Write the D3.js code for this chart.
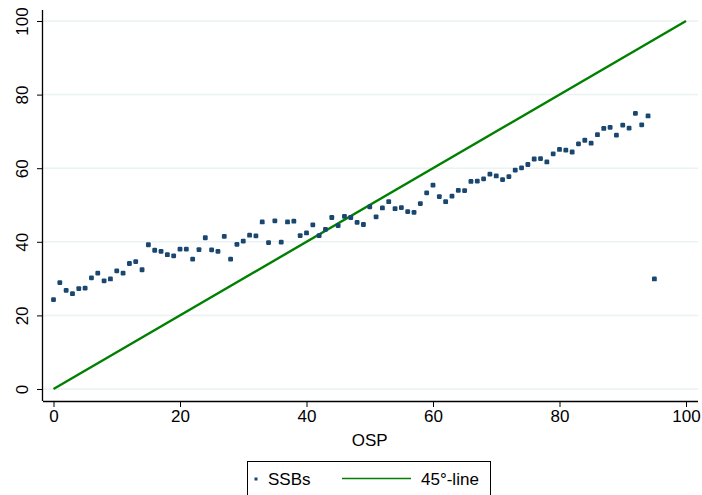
<!DOCTYPE html>
<html><head><meta charset="utf-8">
<script src="https://cdn.jsdelivr.net/npm/d3@7"></script>
<style>body{margin:0;background:#fff}svg{display:block}text{font-family:"Liberation Sans",Arial,sans-serif}</style>
</head><body><svg id="c" width="702" height="495"></svg>
<script>
const osp = [0,1,2,3,4,5,6,7,8,9,10,11,12,13,14,15,16,17,18,19,20,21,22,23,24,25,26,27,28,29,30,31,32,33,34,35,36,37,38,39,40,41,42,43,44,45,46,47,48,49,50,51,52,53,54,55,56,57,58,59,60,61,62,63,64,65,66,67,68,69,70,71,72,73,74,75,76,77,78,79,80,81,82,83,84,85,86,87,88,89,90,91,92,93,94,95];
const ssb = [24.3,28.9,26.8,25.9,27.3,27.4,30.2,31.5,29.4,29.9,32.1,31.5,34.1,34.6,32.4,39.2,37.7,37.4,36.5,36.2,38.0,38.0,35.3,37.9,41.1,37.8,37.4,41.5,35.3,39.3,40.2,41.8,41.6,45.4,39.8,45.7,39.9,45.4,45.6,41.7,42.4,44.6,41.7,43.4,46.6,44.4,46.9,46.6,45.3,44.7,49.5,46.8,49.2,50.9,49.0,49.3,48.2,48.0,50.4,53.3,55.4,52.3,50.9,52.4,54.0,53.9,56.4,56.5,57.1,58.4,57.9,56.9,57.7,59.5,60.1,61.0,62.5,62.6,61.7,63.9,65.1,64.9,64.4,66.6,67.6,66.8,69.1,70.8,71.1,69.0,71.7,70.9,74.9,71.8,74.2,29.9];
const lineX = [0,100];
const xTicks = [0,20,40,60,80,100];
const yTicks = [0,20,40,60,80,100];
const legendLabels = ["SSBs","45°-line"];

const svg = d3.select("#c");
const x = d3.scaleLinear().domain([0,100]).range([53.5,686]);
const y = d3.scaleLinear().domain([0,100]).range([389,21]);
const navy = "#1a476f", green = "#008000";
const axX = 43, axY = 401, rightEdge = 698, topEdge = 10;

// gridlines
svg.append("g").selectAll("line").data(yTicks).join("line")
  .attr("x1",axX).attr("x2",rightEdge).attr("y1",d=>y(d)).attr("y2",d=>y(d))
  .attr("stroke","#eaf2f3").attr("stroke-width",1.5);

// 45 line
svg.append("path").datum(lineX)
  .attr("d", d3.line().x(d=>x(d)).y(d=>y(d)))
  .attr("stroke",green).attr("stroke-width",2.4).attr("fill","none");

// points
svg.append("g").selectAll("rect").data(osp).join("rect")
  .attr("x",(d,i)=>x(d)-2.4).attr("y",(d,i)=>y(ssb[i])-2.4)
  .attr("width",4.8).attr("height",4.8).attr("rx",1.2)
  .attr("fill",navy);

// axes
const xAxis = d3.axisBottom(x).tickValues(xTicks).tickSize(6).tickPadding(3);
const gx = svg.append("g").attr("transform",`translate(0,${axY})`).call(xAxis);
gx.select(".domain").attr("d",`M${axX},0.5H${rightEdge}`).attr("stroke","#000").attr("stroke-width",1.3);
gx.selectAll(".tick line").attr("stroke","#000");
gx.selectAll(".tick text").attr("font-size",17).attr("fill","#000").attr("font-family","Liberation Sans, Arial, sans-serif");

const yAxis = d3.axisLeft(y).tickValues(yTicks).tickSize(6).tickPadding(4);
const gy = svg.append("g").attr("transform",`translate(${axX},0)`).call(yAxis);
gy.select(".domain").attr("d",`M-0.5,${topEdge}V${axY}`).attr("stroke","#000").attr("stroke-width",1.3);
gy.selectAll(".tick line").attr("stroke","#000");
gy.selectAll(".tick text").attr("font-size",17).attr("fill","#000")
  .attr("font-family","Liberation Sans, Arial, sans-serif")
  .attr("transform","rotate(-90)").attr("x",0).attr("y",-21)
  .attr("dy","0.35em").attr("text-anchor","middle");

svg.append("text").attr("x",x(50)).attr("y",446).attr("text-anchor","middle")
  .attr("font-size",17).text("OSP");

// legend
const lg = svg.append("g");
lg.append("rect").attr("x",247.5).attr("y",461.5).attr("width",243).attr("height",40)
  .attr("fill","#fff").attr("stroke","#000").attr("stroke-width",1);
lg.append("rect").attr("x",254.5).attr("y",477.5).attr("width",3).attr("height",3).attr("fill",navy);
lg.append("text").attr("x",268).attr("y",485).attr("font-size",17).text(legendLabels[0]);
lg.append("line").attr("x1",342).attr("x2",411).attr("y1",478.5).attr("y2",478.5)
  .attr("stroke",green).attr("stroke-width",1.5);
lg.append("text").attr("x",421).attr("y",485).attr("font-size",17).text(legendLabels[1]);
</script></body></html>
